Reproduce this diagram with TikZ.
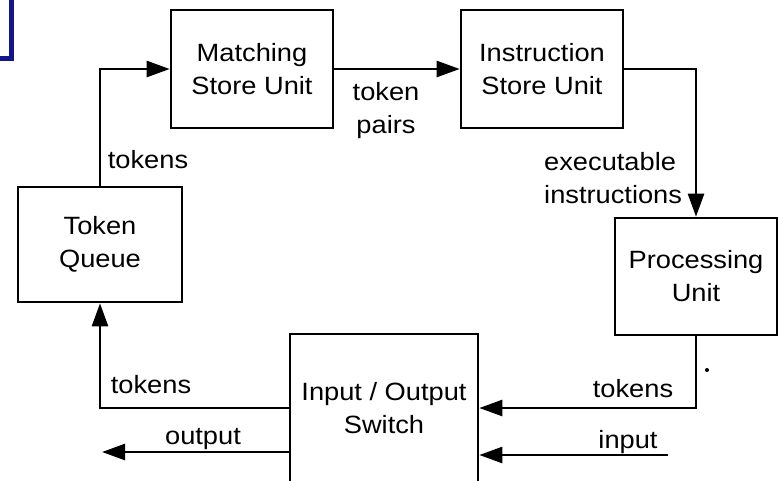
\documentclass[tikz,border=0pt]{standalone}
\usepackage{fontspec}
\setmainfont[FakeStretch=1.09]{Liberation Sans}
\usetikzlibrary{arrows.meta}
\definecolor{bracketblue}{RGB}{20,20,140}
\begin{document}
\begin{tikzpicture}[x=1pt,y=-1pt,
  every node/.style={font=\fontsize{25}{33}\selectfont, align=center},
  unitbox/.style={draw, line width=2.6pt, inner sep=0pt, minimum width=162pt, minimum height=118pt},
  conn/.style={line width=2.5pt, -{Triangle[length=23pt,width=16pt]}},
  lbl/.style={inner sep=0pt}]
\useasboundingbox (0,0) rectangle (778,480);
\clip (0,0) rectangle (778,480);

% corner mark, top left
\draw[bracketblue, line width=5pt] (11,-5) -- (11,58.5) -- (-5,58.5);

% functional units
\node[unitbox] (ms) at (252,69) {Matching\\Store Unit};
\node[unitbox] (is) at (542,69) {Instruction\\Store Unit};
\node[unitbox, minimum height=117pt] (pu) at (696,276.5) {Processing\\Unit};
\node[unitbox, minimum width=164pt, minimum height=115pt] (tq) at (100,244.5) {Token\\Queue};
\node[unitbox, minimum width=188pt, minimum height=148pt] (sw) at (384,408) {Input / Output\\Switch};

% free ends of the external lines
\coordinate (inp) at (668,455);
\coordinate (outp) at (102,452);

% ring of token flow
\draw[conn] (tq.north) |- (ms.west);
\draw[conn] (ms.east) -- (is.west);
\draw[conn] (is.east) -| (pu.north);
\draw[conn] (pu.south) |- (sw.east);
\draw[conn] (sw.west) -| (tq.south);
\draw[conn] (inp) -- (inp -| sw.east);
\draw[conn] (sw.west |- outp) -- (outp);

% connector labels
\node[lbl] (l1) at (148,160) {tokens};
\node[lbl] (l2) at (386,111) {token\\pairs};
\node[lbl, align=left, anchor=west] (l3) at (544,178) {executable\\instructions};
\node[lbl] (l4) at (633,389) {tokens};
\node[lbl] (l5) at (151,385) {tokens};
\node[lbl] (l6) at (203,439) {output};
\node[lbl] (l7) at (628,442) {input};

\fill (707,370) circle (2pt);
\end{tikzpicture}
\end{document}
